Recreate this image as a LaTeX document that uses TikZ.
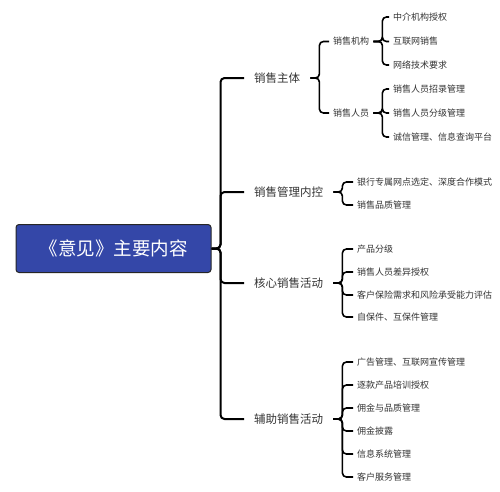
\documentclass[tikz,border=0pt]{standalone}
\usepackage{fontspec}
\setmainfont{Noto Sans CJK SC}
\definecolor{rootblue}{HTML}{3447A8}
\definecolor{txtgray}{HTML}{333333}
\tikzset{
  rootbox/.style={draw=black!85, line width=1pt, fill=rootblue, rounded corners=3pt, minimum width=195pt, minimum height=48pt, text=white, font=\fontsize{18.5}{22}\selectfont},
  topic/.style={anchor=west, inner xsep=10pt, inner ysep=2pt, text=txtgray, font=\fontsize{11.5}{14}\selectfont},
  subtopic/.style={anchor=west, inner xsep=4pt, inner ysep=1pt, text=txtgray, font=\fontsize{9}{11}\selectfont},
  leaf/.style={anchor=west, inner xsep=4pt, inner ysep=1pt, text=txtgray, font=\fontsize{9}{11}\selectfont},
  link/.style={line width=1.6pt, rounded corners=4pt}
}
\begin{document}
\begin{tikzpicture}[x=1pt, y=-1pt]
\useasboundingbox (0,0) rectangle (500,491);
\node[rootbox] (root) at (113.5,248.5) {《意见》主要内容};
% first level
\node[topic] (t1) at (244,78) {销售主体};
\node[topic] (t2) at (244,192) {销售管理内控};
\node[topic] (t3) at (244,283) {核心销售活动};
\node[topic] (t4) at (244,419) {辅助销售活动};
\foreach \n in {t1,t2,t3,t4}
  \draw[link, line width=2pt] (root.east) -- ++(9,0) |- (\n.west);
% second level
\node[subtopic] (s1) at (329,41.5) {销售机构};
\node[subtopic] (s2) at (329,113) {销售人员};
\foreach \n in {s1,s2}
  \draw[link] (t1.east) -- ++(9,0) |- (\n.west);
% leaves
\foreach \y/\t [count=\i] in {17/中介机构授权, 41.5/互联网销售, 65/网络技术要求}{
  \node[leaf] (a\i) at (389,\y) {\t};
  \draw[link] (s1.east) -- ++(9,0) |- (a\i.west);
}
\foreach \y/\t [count=\i] in {89/销售人员招录管理, 113/销售人员分级管理, 137/诚信管理、信息查询平台}{
  \node[leaf] (b\i) at (389,\y) {\t};
  \draw[link] (s2.east) -- ++(9,0) |- (b\i.west);
}
\foreach \y/\t [count=\i] in {182/银行专属网点选定、深度合作模式, 205/销售品质管理}{
  \node[leaf] (c\i) at (353,\y) {\t};
  \draw[link] (t2.east) -- ++(9,0) |- (c\i.west);
}
\foreach \y/\t [count=\i] in {249/产品分级, 272/销售人员差异授权, 295/客户保险需求和风险承受能力评估, 317/自保件、互保件管理}{
  \node[leaf] (d\i) at (353,\y) {\t};
  \draw[link] (t3.east) -- ++(9,0) |- (d\i.west);
}
\foreach \y/\t [count=\i] in {362/广告管理、互联网宣传管理, 385/逐款产品培训授权, 408/佣金与品质管理, 431/佣金披露, 454/信息系统管理, 477/客户服务管理}{
  \node[leaf] (e\i) at (353,\y) {\t};
  \draw[link] (t4.east) -- ++(9,0) |- (e\i.west);
}
\end{tikzpicture}
\end{document}
